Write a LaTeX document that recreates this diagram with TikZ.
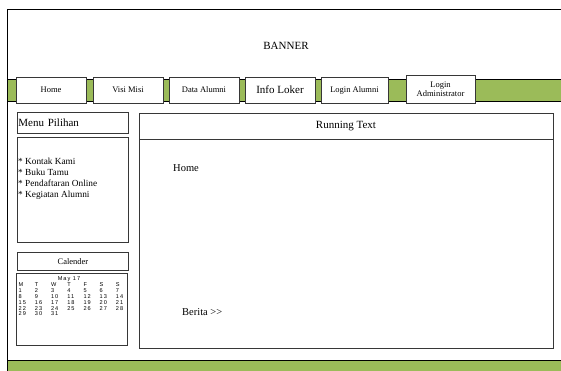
\documentclass[tikz,border=0pt]{standalone}
\usepackage{fontspec}
\setmainfont{Liberation Serif}
\newfontfamily\calfont[LetterSpace=18]{Liberation Sans}
\usepackage{xcolor}
\definecolor{navgreen}{RGB}{155,187,89}
\definecolor{boxline}{RGB}{55,55,55}

\begin{document}
\begin{tikzpicture}[x=1pt, y=-1pt,
    frame/.style={draw=boxline, line width=0.9pt},
    navbtn/.style={frame, fill=white, minimum width=70pt, minimum height=26pt,
      inner sep=0pt, align=center, font=\fontsize{8.5}{9}\selectfont},
    panel/.style={frame, fill=white, inner sep=0pt, anchor=north west},
    calnum/.style={inner sep=0pt, anchor=west, font=\calfont\fontsize{5.6}{6}\selectfont}]
	\useasboundingbox (0,0) rectangle (561,370);
	\clip (0,0) rectangle (561,370);

	% Outer page frame
	\draw[line width=1pt] (7,360) -- (7,9) -- (575,9);
	\node[font=\fontsize{11}{13}\selectfont] (banner) at (286,46) {BANNER};

	% Menu bar
	\draw[fill=navgreen, line width=0.9pt] (7,79) rectangle (575,101);
	\node[navbtn] (home) at (51,90) {Home};
	\node[navbtn] (visimisi) at (128,90) {Visi Misi};
	\node[navbtn] (dataalumni) at (204,90) {Data Alumni};
	\node[navbtn, font=\fontsize{11}{13}\selectfont] (infoloker) at (280,90) {Info Loker};
	\node[navbtn, minimum width=67pt] (loginalumni) at (354.5,90) {Login Alumni};
	\node[navbtn, minimum width=69pt, minimum height=28pt] (loginadmin) at (440.5,89) {Login\\Administrator};

	% Left column
	\node[panel, minimum width=111pt, minimum height=21pt, text width=109pt,
	  font=\fontsize{11}{12}\selectfont, inner xsep=1pt] (menupilihan) at (17,112) {Menu Pilihan};
	\node[panel, minimum width=111pt, minimum height=105pt] (pilihanbox) at (17,137) {};
	\node[anchor=north west, inner sep=0pt, align=left,
	  font=\fontsize{9.3}{11.2}\selectfont] (pilihanlist) at (18,157.5)
	  {* Kontak Kami\\* Buku Tamu\\* Pendaftaran Online\\* Kegiatan Alumni};

	\node[panel, minimum width=111pt, minimum height=18pt,
	  font=\fontsize{8.5}{10}\selectfont] (calender) at (17,252) {Calender};
	\node[panel, minimum width=111pt, minimum height=72pt] (calbox) at (16,273) {};
	\node[calnum, anchor=center] (calmonth) at (69,279) {May 17};
	\foreach \d [count=\i from 0] in {M,T,W,T,F,S,S}
	\node[calnum] (calhead\i) at (18.5+16.2*\i,285) {\d};
	\foreach \row/\yy in {{1,2,3,4,5,6,7}/291, {8,9,10,11,12,13,14}/297,
	    {15,16,17,18,19,20,21}/302.5, {22,23,24,25,26,27,28}/308.5, {29,30,31}/314}
	\foreach \d [count=\i from 0] in \row
	\node[calnum] (cal\d) at (18.5+16.2*\i,\yy) {\d};

	% Content area
	\node[panel, minimum width=414pt, minimum height=235pt] (content) at (139,113) {};
	\draw[frame] (content.north west |- 0,139) -- (content.north east |- 0,139);
	\node[font=\fontsize{11}{13}\selectfont] (runningtext) at (346,126) {Running Text};
	\node[anchor=west, inner sep=0pt, font=\fontsize{10.5}{12}\selectfont] (hometext) at (173,168) {Home};
	\node[anchor=west, inner sep=0pt, font=\fontsize{10.5}{12}\selectfont] (berita) at (182,312) {Berita >{}>};

	% Footer bar
	\draw[fill=navgreen, line width=1pt] (7,360) rectangle (575,380);
\end{tikzpicture}
\end{document}
